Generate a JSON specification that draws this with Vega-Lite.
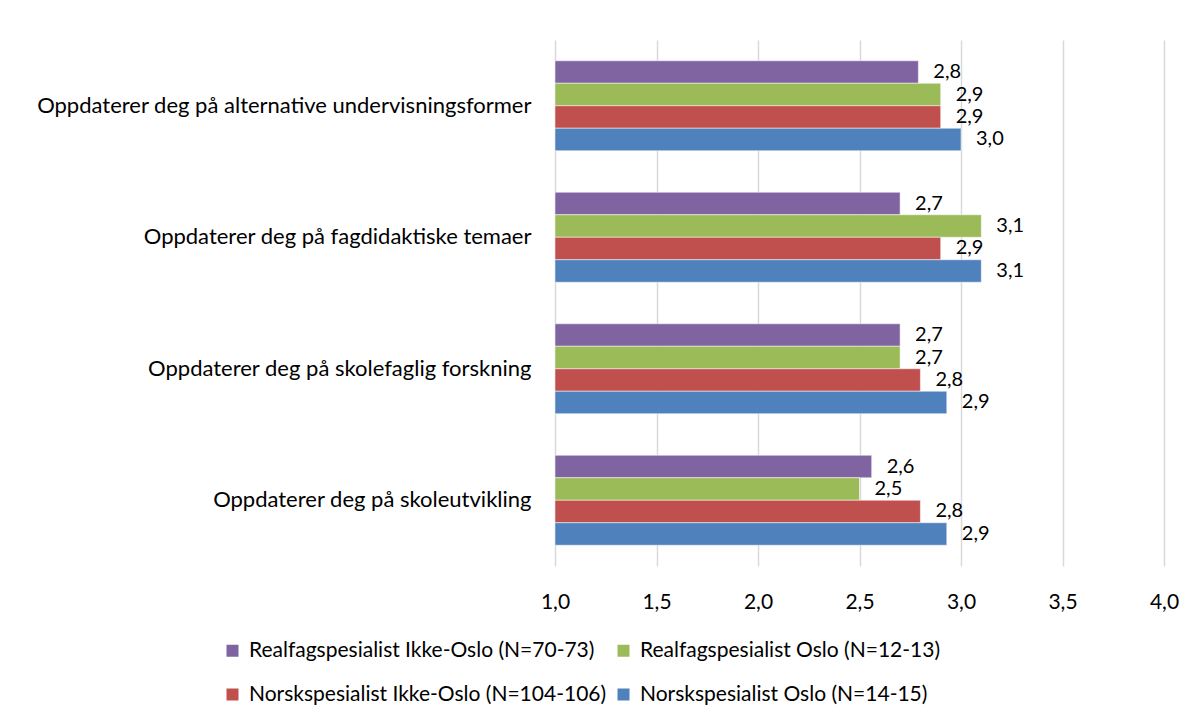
{
  "$schema": "https://vega.github.io/schema/vega-lite/v6.json",
  "width": 609,
  "height": 526,
  "autosize": {"type": "none"},
  "padding": {"left": 555, "top": 40, "right": 31, "bottom": 156},
  "background": "white",
  "title": {
    "text": "på skalaen 1-4.",
    "anchor": "start",
    "frame": "group",
    "dx": -545,
    "offset": 35,
    "baseline": "bottom",
    "fontSize": 22,
    "fontWeight": "bold",
    "font": "Lato",
    "color": "black"
  },
  "config": {
    "locale": {"number": {"decimal": ",", "thousands": " ", "grouping": [3], "currency": ["", " kr"]}},
    "font": "Lato",
    "view": {"stroke": null}
  },
  "data": {
    "values": [
      {"category": "Oppdaterer deg på alternative undervisningsformer", "series": "Realfagspesialist Ikke-Oslo (N=70-73)", "value": 2.79},
      {"category": "Oppdaterer deg på alternative undervisningsformer", "series": "Realfagspesialist Oslo (N=12-13)", "value": 2.9},
      {"category": "Oppdaterer deg på alternative undervisningsformer", "series": "Norskspesialist Ikke-Oslo (N=104-106)", "value": 2.9},
      {"category": "Oppdaterer deg på alternative undervisningsformer", "series": "Norskspesialist Oslo (N=14-15)", "value": 3.0},
      {"category": "Oppdaterer deg på fagdidaktiske temaer", "series": "Realfagspesialist Ikke-Oslo (N=70-73)", "value": 2.7},
      {"category": "Oppdaterer deg på fagdidaktiske temaer", "series": "Realfagspesialist Oslo (N=12-13)", "value": 3.1},
      {"category": "Oppdaterer deg på fagdidaktiske temaer", "series": "Norskspesialist Ikke-Oslo (N=104-106)", "value": 2.9},
      {"category": "Oppdaterer deg på fagdidaktiske temaer", "series": "Norskspesialist Oslo (N=14-15)", "value": 3.1},
      {"category": "Oppdaterer deg på skolefaglig forskning", "series": "Realfagspesialist Ikke-Oslo (N=70-73)", "value": 2.7},
      {"category": "Oppdaterer deg på skolefaglig forskning", "series": "Realfagspesialist Oslo (N=12-13)", "value": 2.7},
      {"category": "Oppdaterer deg på skolefaglig forskning", "series": "Norskspesialist Ikke-Oslo (N=104-106)", "value": 2.8},
      {"category": "Oppdaterer deg på skolefaglig forskning", "series": "Norskspesialist Oslo (N=14-15)", "value": 2.93},
      {"category": "Oppdaterer deg på skoleutvikling", "series": "Realfagspesialist Ikke-Oslo (N=70-73)", "value": 2.56},
      {"category": "Oppdaterer deg på skoleutvikling", "series": "Realfagspesialist Oslo (N=12-13)", "value": 2.5},
      {"category": "Oppdaterer deg på skoleutvikling", "series": "Norskspesialist Ikke-Oslo (N=104-106)", "value": 2.8},
      {"category": "Oppdaterer deg på skoleutvikling", "series": "Norskspesialist Oslo (N=14-15)", "value": 2.93}
    ]
  },
  "encoding": {
    "y": {
      "field": "category",
      "type": "nominal",
      "sort": null,
      "scale": {"paddingInner": 0.316, "paddingOuter": 0.158},
      "axis": {
        "title": null,
        "ticks": false,
        "domain": false,
        "labelFontSize": 22,
        "labelColor": "black",
        "labelPadding": 24,
        "labelLimit": 700
      }
    },
    "yOffset": {
      "field": "series",
      "type": "nominal",
      "sort": ["Realfagspesialist Ikke-Oslo (N=70-73)", "Realfagspesialist Oslo (N=12-13)", "Norskspesialist Ikke-Oslo (N=104-106)", "Norskspesialist Oslo (N=14-15)"],
      "scale": {"paddingInner": 0, "paddingOuter": 0}
    },
    "x": {
      "field": "value",
      "type": "quantitative",
      "scale": {"domain": [1, 4], "zero": false, "nice": false},
      "axis": {
        "title": null,
        "values": [1, 1.5, 2, 2.5, 3, 3.5, 4],
        "format": ".1f",
        "grid": true,
        "gridColor": "#d9d9d9",
        "gridWidth": 1.5,
        "domain": false,
        "ticks": false,
        "labelFlush": false,
        "labelOverlap": false,
        "labelFontSize": 21,
        "labelColor": "black",
        "labelPadding": 25
      }
    }
  },
  "layer": [
    {
      "mark": {"type": "bar", "stroke": "white", "strokeWidth": 0.5},
      "encoding": {
        "x2": {"datum": 1},
        "color": {
          "field": "series",
          "type": "nominal",
          "scale": {
            "domain": ["Realfagspesialist Ikke-Oslo (N=70-73)", "Realfagspesialist Oslo (N=12-13)", "Norskspesialist Ikke-Oslo (N=104-106)", "Norskspesialist Oslo (N=14-15)"],
            "range": ["#8064A2", "#9BBB59", "#C0504D", "#4F81BD"]
          },
          "legend": {
            "title": null,
            "orient": "none",
            "direction": "horizontal",
            "legendX": -333,
            "legendY": 600,
            "columns": 2,
            "padding": 0,
            "rowPadding": 22,
            "columnPadding": 6,
            "symbolType": "square",
            "symbolSize": 144,
            "symbolStrokeWidth": 0,
            "labelFontSize": 21,
            "labelColor": "black",
            "labelOffset": 6,
            "labelLimit": 500
          }
        }
      }
    },
    {
      "mark": {"type": "text", "align": "left", "baseline": "middle", "dx": 15, "fontSize": 20, "color": "black"},
      "encoding": {
        "text": {"field": "value", "type": "quantitative", "format": ".1f"}
      }
    }
  ]
}
